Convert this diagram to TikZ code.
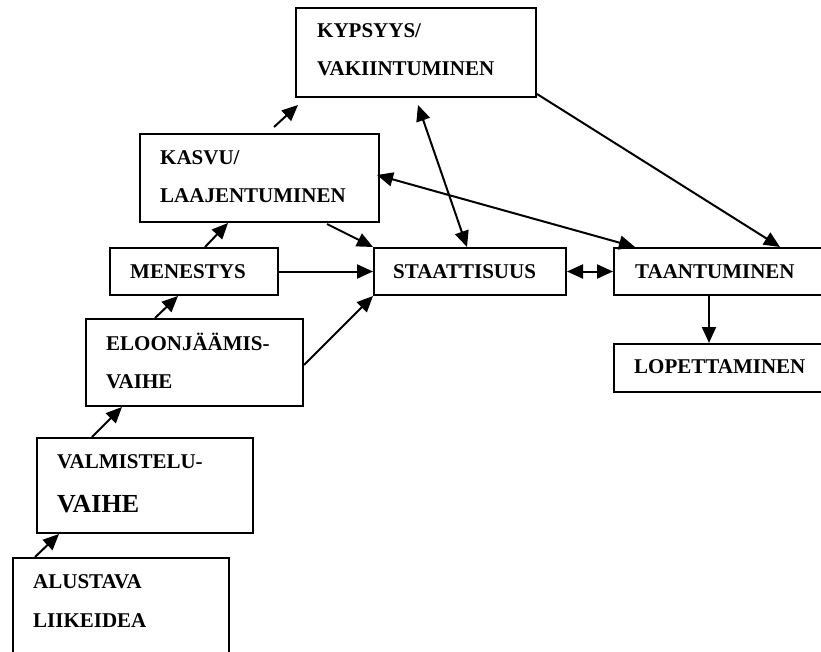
\documentclass[tikz,border=0pt]{standalone}
\usepackage{fontspec}
\setmainfont{Liberation Serif}
\usetikzlibrary{arrows.meta,calc}
\tikzset{
  box/.style={draw, line width=2pt, rectangle, anchor=north west, inner sep=0pt},
  txt/.style={anchor=base west, inner sep=0pt, font=\fontsize{21}{25}\selectfont\bfseries},
  bigtxt/.style={anchor=base west, inner sep=0pt, font=\fontsize{26}{30}\selectfont\bfseries},
  arr/.style={line width=2pt, -{Triangle[length=16pt,width=14pt]}},
  darr/.style={line width=2pt, {Triangle[length=16pt,width=14pt]}-{Triangle[length=16pt,width=14pt]}}
}
\begin{document}
\begin{tikzpicture}[x=1pt,y=-1pt]
\useasboundingbox (0,0) rectangle (821,652);
\clip (0,0) rectangle (821,652);
\fill[white] (0,0) rectangle (821,652);
% boxes
\node[box, minimum width=240pt, minimum height=89pt] (kyp) at (295,7) {};
\node[box, minimum width=239pt, minimum height=88pt] (kas) at (139,133) {};
\node[box, minimum width=168pt, minimum height=47pt] (men) at (109,247) {};
\node[box, minimum width=192pt, minimum height=47pt] (sta) at (373,247) {};
\node[box, minimum width=240pt, minimum height=47pt] (taa) at (613,247) {};
\node[box, minimum width=240pt, minimum height=48pt] (lop) at (613,343) {};
\node[box, minimum width=217pt, minimum height=87pt] (elo) at (85,318) {};
\node[box, minimum width=216pt, minimum height=95pt] (val) at (36,437) {};
\node[box, minimum width=216pt, minimum height=120pt] (alu) at (12,557) {};
% texts
\node[txt] (t1) at (317,38) {KYPSYYS/};
\node[txt] (t2) at (317,76) {VAKIINTUMINEN};
\node[txt] (t3) at (160,165) {KASVU/};
\node[txt] (t4) at (160,203) {LAAJENTUMINEN};
\node[txt] (t5) at (130,278) {MENESTYS};
\node[txt] (t6) at (393,278) {STAATTISUUS};
\node[txt] (t7) at (635,278) {TAANTUMINEN};
\node[txt] (t8) at (634,373) {LOPETTAMINEN};
\node[txt] (t9) at (106,350) {ELOONJÄÄMIS-};
\node[txt] (t10) at (106,388) {VAIHE};
\node[txt] (t11) at (57,468) {VALMISTELU-};
\node[bigtxt] (t12) at (57,512) {VAIHE};
\node[txt] (t13) at (33,588) {ALUSTAVA};
\node[txt] (t14) at (33,627) {LIIKEIDEA};
% connectors
\draw[arr] ($(alu.north west)+(23,0)$) -- ($(val.south west)+(23,0)$);
\draw[arr] ($(val.north west)+(56,0)$) -- ($(elo.south west)+(37,0)$);
\draw[arr] ($(elo.north west)+(70,0)$) -- ($(men.south west)+(69,0)$);
\draw[arr] ($(men.north west)+(96,0)$) -- ($(kas.south west)+(89,0)$);
\draw[arr] ($(kas.north west)+(135,-6)$) -- ($(kyp.south west)+(3,7)$);
\draw[arr] ($(kas.south east)+(-53,1)$) -- (sta.north west);
\draw[arr] (men.east) -- (sta.west);
\draw[arr] ($(elo.north east)+(0,47)$) -- (sta.south west);
\draw[darr] ($(kyp.south west)+(123,7)$) -- ($(sta.north west)+(94,0)$);
\draw[darr] ($(kas.north east)+(-3,42)$) -- ($(taa.north west)+(22,0)$);
\draw[arr] ($(kyp.south east)+(0,-4)$) -- ($(taa.north west)+(167,0)$);
\draw[darr] (sta.east) -- (taa.west);
\draw[arr] ($(taa.south west)+(96,0)$) -- ($(lop.north west)+(96,0)$);
\end{tikzpicture}
\end{document}
